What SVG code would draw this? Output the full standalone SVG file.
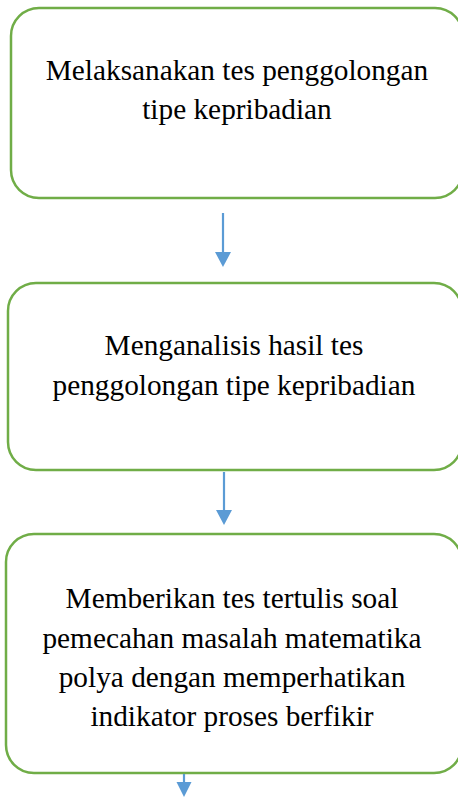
<svg xmlns="http://www.w3.org/2000/svg" width="458" height="797" viewBox="0 0 458 797">
<style>
.box{fill:#ffffff;stroke:#70AD47;stroke-width:2.5}
.t{font-family:"Liberation Serif","Times New Roman",serif;font-size:29.3px;fill:#000000;text-anchor:middle}
.conn line{stroke:#5B9BD5;stroke-width:2.2}
.conn polygon{fill:#5B9BD5}
</style>
<rect width="458" height="797" fill="#ffffff"/>
<g id="node1">
<rect class="box" x="11" y="8" width="452" height="190" rx="28"/>
<text class="t" x="237" y="80">Melaksanakan tes penggolongan</text>
<text class="t" x="237" y="119">tipe kepribadian</text>
</g>
<g id="node2">
<rect class="box" x="8" y="283" width="454" height="187" rx="28"/>
<text class="t" x="234" y="355">Menganalisis hasil tes</text>
<text class="t" x="234" y="395">penggolongan tipe kepribadian</text>
</g>
<g id="node3">
<rect class="box" x="6" y="534" width="456" height="239" rx="28"/>
<text class="t" x="232" y="608">Memberikan tes tertulis soal</text>
<text class="t" x="232" y="647.5">pemecahan masalah matematika</text>
<text class="t" x="232" y="687">polya dengan memperhatikan</text>
<text class="t" x="232" y="726">indikator proses berfikir</text>
</g>
<g id="connectors" class="conn">
<line x1="223" y1="213" x2="223" y2="253"/>
<polygon points="215,252 231,252 223,267"/>
<line x1="224" y1="472" x2="224" y2="511"/>
<polygon points="216,510 232,510 224,525"/>
<line x1="184" y1="774" x2="184" y2="783"/>
<polygon points="176.5,782 191.5,782 184,797"/>
</g>
</svg>
